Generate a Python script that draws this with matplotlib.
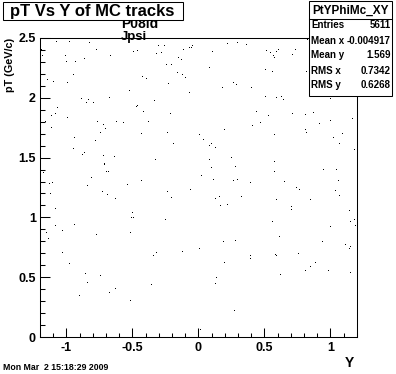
"""Scatter of pT against rapidity Y for MC tracks, ROOT-like canvas"""

import matplotlib.pyplot as plt
from matplotlib.patches import Rectangle
from matplotlib.lines import Line2D
from matplotlib.ticker import MultipleLocator, FuncFormatter

plt.rcParams["font.family"] = ["Liberation Sans", "DejaVu Sans"]
plt.rcParams["font.weight"] = "bold"
plt.rcParams["axes.labelweight"] = "bold"
plt.rcParams["axes.unicode_minus"] = False

# visible points of the scatter (Y, pT in GeV/c)
rapidity = [
    -1.079, -0.980, -0.831, -1.192, -0.776, -0.492, -0.465, -0.303, -0.263,
    -0.321, -0.283, -0.117, -0.068, -0.056, -0.048, -1.185, -1.011, -0.670,
    -0.867, -1.003, -0.935, -0.155, -0.134, -0.245, -0.208, -0.950, -0.162,
    -0.124, -0.102, -0.427, -0.397, -1.147, -1.102, -0.995, -0.233, -0.526,
    -0.071, -0.889, -0.836, -0.852, -0.798, -0.677, -0.336, -0.465, -0.473,
    -0.420, -1.071, -1.086, -1.117, -0.995, -0.215, -1.162, -0.768, -0.624,
    -0.571, -0.382, -0.723, -0.708, -1.117, -0.745, -0.435, -0.238, -0.942,
    -0.783, -0.192, -0.950, -0.882, -0.867, -0.723, -0.639, -0.329, -0.715,
    -0.712, -0.700, -0.685, -1.177, -0.811, -1.132, -1.109, -0.844, -0.541,
    -0.435,
    0.217, 0.290, 0.361, 0.103, 0.510, 0.540, 0.563, 0.576, 0.591, 0.603,
    0.732, 0.712, 0.820, 0.080, 0.505, 0.558, 0.815, 0.262, 0.285, 0.179,
    0.398, 0.505, 0.588, 0.626, 0.641, 0.997, 0.436, 0.527, 0.709, 0.808,
    0.868, 1.164, 0.467, 0.194, 0.406, 0.914, 0.997, 0.808, 0.815, 0.573,
    0.005, 0.035, 0.080, 0.095, 0.126, 1.088, 1.020, 1.065, 1.179, 0.080,
    0.247, 0.573, 0.095, 0.277, 0.573, 0.944, 1.042, 0.020, 0.111, 0.262,
    0.292, 0.391, 0.648, 1.058,
    -1.124, -0.730, -0.692, -0.632, -0.238, -0.064, -0.208, -1.200, -1.086,
    -0.503, -0.511, -0.495, -0.253, -1.086, -0.942, -1.033, -1.155, -1.139,
    -0.776, -0.518, -1.033, -0.344, -0.321, -0.124, -0.980, -0.859, -0.745,
    -0.844, -0.359, -0.632, -0.677, -0.905, -0.518,
    0.739, 0.762, 1.035, 1.065, 0.126, 0.156, 0.323, 0.588, 0.845, 0.164,
    0.217, 0.702, 0.702, 1.141, 0.558, 1.148, 1.179, 1.186, 0.997, 0.611,
    0.186, 0.277, 0.936, 1.111, 1.148, 1.141, 0.005, 0.391, 0.391, 0.580,
    0.588, 0.755, 0.194, 0.883, 0.845, 0.808, 0.982, 1.148, 0.618, 0.133,
    0.126, 0.270, 0.012,
]
pt = [
    2.467, 2.467, 2.458, 2.402, 2.397, 2.383, 2.389, 2.431, 2.431,
    2.366, 2.372, 2.397, 2.414, 2.419, 2.431, 2.347, 2.347, 2.347,
    2.324, 2.299, 2.299, 2.330, 2.314, 2.272, 2.272, 2.188, 2.205,
    2.193, 2.163, 2.171, 2.155, 2.146, 2.130, 2.121, 2.113, 2.057,
    2.038, 1.990, 1.979, 1.954, 1.954, 1.996, 1.971, 1.929, 1.921,
    1.879, 1.912, 1.862, 1.845, 1.829, 1.862, 1.798, 1.795, 1.795,
    1.787, 1.795, 1.770, 1.737, 1.745, 1.703, 1.695, 1.703, 1.661,
    1.636, 1.611, 1.569, 1.519, 1.536, 1.511, 1.502, 1.477, 1.444,
    1.436, 1.377, 1.377, 1.369, 1.327, 1.282, 1.288, 1.260, 1.268,
    1.302,
    2.447, 2.456, 2.439, 2.380, 2.389, 2.372, 2.349, 2.330, 2.380, 2.397,
    2.397, 2.355, 2.481, 2.252, 2.230, 2.213, 2.213, 2.126, 2.105, 2.079,
    2.079, 2.004, 1.996, 2.004, 1.979, 1.987, 1.879, 1.848, 1.862, 1.854,
    1.870, 1.820, 1.787, 1.728, 1.762, 1.778, 1.804, 1.728, 1.703, 1.686,
    1.686, 1.645, 1.599, 1.611, 1.578, 1.695, 1.661, 1.611, 1.561, 1.477,
    1.494, 1.461, 1.411, 1.419, 1.377, 1.394, 1.394, 1.344, 1.310, 1.302,
    1.310, 1.285, 1.293, 1.302,
    1.196, 1.212, 1.185, 1.151, 1.212, 1.227, 1.160, 1.076, 1.068,
    1.034, 0.992, 0.992, 0.976, 0.926, 0.934, 0.884, 0.867, 0.817,
    0.850, 0.867, 0.700, 0.675, 0.700, 0.708, 0.608, 0.524, 0.508,
    0.449, 0.432, 0.399, 0.365, 0.340, 0.298,
    1.243, 1.227, 1.218, 1.176, 1.151, 1.168, 1.168, 1.143, 1.143, 1.093,
    1.101, 1.084, 1.059, 1.051, 0.959, 0.959, 0.976, 0.926, 0.917, 0.834,
    0.792, 0.800, 0.792, 0.767, 0.750, 0.733, 0.733, 0.675, 0.650, 0.683,
    0.675, 0.691, 0.616, 0.616, 0.583, 0.549, 0.549, 0.533, 0.516, 0.491,
    0.441, 0.215, 0.056,
]

hist_name = "PtYPhiMc_XY"
stat_labels = ["Entries", "Mean x", "Mean y", "RMS x", "RMS y"]
stat_values = ["5611", "-0.004917", "1.569", "0.7342", "0.6268"]

W, H = 396.0, 374.0


def fx(px):
    """pixel x -> figure fraction"""
    return px / W


def fy(py):
    """pixel y (from top) -> figure fraction"""
    return 1 - py / H


def plotter():
    """Draw the canvas"""
    fig = plt.figure(figsize=(3.96, 3.74), dpi=100)
    ax = fig.add_axes([fx(40), fy(337), fx(316.8), 299 / H])

    ax.plot(rapidity, pt, ls="none", marker=",", color="black")
    ax.set_xlim(-1.2, 1.2)
    ax.set_ylim(0, 2.5)

    fmt = FuncFormatter(lambda v, p: "%g" % round(v, 3))
    for axis in (ax.xaxis, ax.yaxis):
        axis.set_major_locator(MultipleLocator(0.5))
        axis.set_minor_locator(MultipleLocator(0.1))
        axis.set_major_formatter(fmt)
    ax.tick_params(which="both", direction="in", top=False, right=False,
                   width=0.75)
    ax.tick_params(axis="y", which="major", length=7.2, pad=2.9, labelsize=9)
    ax.tick_params(axis="y", which="minor", length=3.6)
    ax.tick_params(axis="x", which="major", length=6.5, pad=3.4, labelsize=9)
    ax.tick_params(axis="x", which="minor", length=3.2)
    for sp in ax.spines.values():
        sp.set_linewidth(0.75)

    ax.set_ylabel("pT (GeV/c)", loc="top", fontsize=7.8, fontweight="bold")
    ax.yaxis.label.set_va("center")
    ax.yaxis.set_label_coords((10.5 - 40) / 316.8, 1.0)
    ax.set_xlabel("Y", loc="right", fontsize=10, fontweight="bold")
    ax.xaxis.label.set_va("center")
    ax.xaxis.set_label_coords(1 - 2.5 / 316.8, (337 - 362.7) / 299)

    # title pave
    fig.add_artist(Rectangle((fx(3), fy(20)), fx(180), 18 / H, fc="white",
                             ec="black", lw=0.75, zorder=5))
    fig.text(fx(92.5), fy(11.5), "pT Vs Y of MC tracks", fontsize=12,
             ha="center", va="center", zorder=6)
    fig.text(fx(121), fy(27.5), "P08id", fontsize=10, va="baseline", zorder=4)
    fig.text(fx(121), fy(40), "Jpsi", fontsize=9.5, va="baseline", zorder=4)

    # stats pave
    fig.add_artist(Rectangle((fx(309), fy(96)), fx(83), 95 / H, fc="white",
                             ec="black", lw=0.75, zorder=5))
    fig.add_artist(Line2D([fx(309), fx(392)], [fy(19), fy(19)],
                          color="black", lw=0.75, zorder=6))
    fig.text(fx(350.5), fy(11), hist_name, fontsize=8.5, ha="center",
             va="center", zorder=6)
    rows = [25, 40.5, 55.5, 70.5, 85.5]
    for lab, val, yy in zip(stat_labels, stat_values, rows):
        fig.text(fx(311), fy(yy), lab, fontsize=7, va="center", zorder=6)
        fig.text(fx(390.5), fy(yy), val, fontsize=7, ha="right",
                 va="center", zorder=6)

    fig.text(fx(3), fy(367), "Mon Mar  2 15:18:29 2009", fontsize=6.3,
             va="center")

    fig.savefig("out.png", dpi=100)


def main():
    """Main function"""
    plotter()


if __name__ == '__main__':
    main()
